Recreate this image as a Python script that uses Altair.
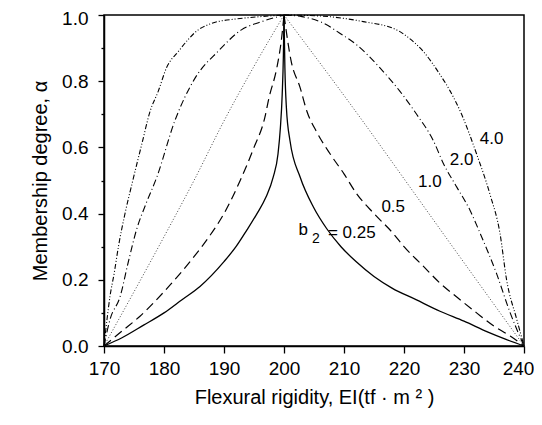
import altair as alt
import pandas as pd

# ---- data ----
b025_x = [170, 173, 176.6, 180, 183, 186, 190, 192, 193.8, 195.5, 197, 198.2, 199, 199.4, 199.7, 199.9, 200,
          200.15, 200.4, 201, 202.7, 204.9, 207.1, 209.5, 212, 215, 218, 222, 226, 230, 234, 237, 240]
b025_y = [0, 0.025, 0.063, 0.10, 0.14, 0.18, 0.255, 0.30, 0.35, 0.40, 0.45, 0.51, 0.58, 0.66, 0.76, 0.88, 1.0,
          0.84, 0.72, 0.62, 0.51, 0.42, 0.355, 0.30, 0.255, 0.21, 0.175, 0.14, 0.105, 0.075, 0.042, 0.02, 0]

b05_x = [170, 173, 176, 180, 182.5, 185, 187.5, 190, 192.7, 195, 196.8, 197.5, 198.8, 199.6, 200,
         201.2, 202.7, 203.8, 205.5, 207.7, 210, 212.1, 215, 218.2, 220, 223, 226, 229, 232.1, 235, 237.7, 240]
b05_y = [0, 0.045, 0.09, 0.164, 0.215, 0.27, 0.33, 0.40, 0.50, 0.60, 0.69, 0.75, 0.84, 0.93, 1.0,
         0.86, 0.78, 0.71, 0.645, 0.58, 0.52, 0.46, 0.40, 0.34, 0.30, 0.245, 0.19, 0.145, 0.10, 0.06, 0.03, 0]

b1_x = [170, 180, 185, 190, 195, 200, 212.7, 221, 227.7, 240]
b1_y = [0, 0.33, 0.50, 0.68, 0.845, 1.0, 0.69, 0.48, 0.31, 0]

b2_x = [170, 171, 172.7, 174, 175.4, 177, 178.8, 181.8, 185.2, 189, 192.9, 196.3, 200,
        203, 206.6, 209.3, 212.1, 216, 219.3, 222.1, 224.9, 226.6, 228.8, 231, 232.7, 235.4, 237.7, 240]
b2_y = [0, 0.08, 0.15, 0.25, 0.35, 0.43, 0.51, 0.68, 0.81, 0.89, 0.955, 0.98, 1.0,
        0.995, 0.975, 0.945, 0.91, 0.84, 0.77, 0.70, 0.62, 0.55, 0.48, 0.41, 0.34, 0.22, 0.10, 0]

b4_x = [170, 170.5, 171, 171.7, 172.4, 173.5, 174.8, 176.3, 177.7, 179.05, 180.4, 182.4, 185.7, 188, 192, 196, 200,
        206, 213.2, 218.8, 220.5, 223.2, 226, 227.7, 229.6, 232.1, 234.3, 236, 237.1, 238.8, 240]
b4_y = [0, 0.08, 0.15, 0.22, 0.30, 0.40, 0.50, 0.61, 0.71, 0.77, 0.84, 0.89, 0.955, 0.975, 0.988, 0.995, 1.0,
        0.997, 0.98, 0.955, 0.935, 0.89, 0.82, 0.77, 0.70, 0.58, 0.46, 0.34, 0.20, 0.08, 0]

label_text = ["4.0", "2.0", "1.0", "0.5", "b", "= 0.25"]
label_x = [234.6, 229.6, 224.3, 218.2, 203.2, 211.3]
label_y = [0.624, 0.562, 0.496, 0.421, 0.35, 0.341]
sub_text = ["2"]
sub_x = [205.3]
sub_y = [0.322]

x_ticks = [170, 180, 190, 200, 210, 220, 230, 240]
y_ticks = [0.0, 0.1, 0.2, 0.3, 0.4, 0.5, 0.6, 0.7, 0.8, 0.9, 1.0]

FONT = "Liberation Sans"

xscale = alt.Scale(domain=[170, 240], nice=False, zero=False)
yscale = alt.Scale(domain=[0, 1], nice=False, zero=False)

xaxis = alt.Axis(values=x_ticks, title="Flexural rigidity, EI(tf · m ² )", format="d",
                 tickSize=7, labelPadding=6, titlePadding=9, labelFlush=False,
                 labelOffset={"condition": {"test": "datum.value == 240", "value": -6}, "value": 0})
yaxis = alt.Axis(values=y_ticks, title="Membership degree, α",
                 labelExpr="round(datum.value*10) % 2 == 0 ? format(datum.value, '.1f') : ''",
                 tickSize={"condition": {"test": "round(datum.value*10) % 2 == 0", "value": 6}, "value": 3},
                 labelOffset={"condition": {"test": "datum.value == 1", "value": 3}, "value": 0},
                 labelPadding=10, titlePadding=11)

X = alt.X("x:Q", scale=xscale, axis=xaxis)
Y = alt.Y("y:Q", scale=yscale, axis=yaxis)

series = [
    (b025_x, b025_y, [1, 0], 1.3, "black"),
    (b05_x, b05_y, [9, 5], 1.2, "black"),
    (b1_x, b1_y, [1, 2], 1.0, "#444444"),
    (b2_x, b2_y, [7, 3, 1, 3], 1.1, "black"),
    (b4_x, b4_y, [5, 2, 1, 2, 1, 2], 1.1, "black"),
]

layers = []
for xs, ys, dash, w, col in series:
    k = xs.index(200)
    side = ["L"] * (k + 1) + ["R"] * (len(xs) - k)
    xx = xs[:k + 1] + xs[k:]
    yy = ys[:k + 1] + ys[k:]
    df = pd.DataFrame({"x": xx, "y": yy, "side": side, "o": list(range(len(xx)))})
    props = dict(color=col, strokeWidth=w, interpolate="monotone")
    if dash != [1, 0]:
        props["strokeDash"] = dash
    layers.append(alt.Chart(df).mark_line(**props).encode(x=X, y=Y, detail="side:N", order="o:Q"))

lab_df = pd.DataFrame({"t": label_text, "x": label_x, "y": label_y})
layers.append(alt.Chart(lab_df).mark_text(font=FONT, fontSize=17, color="black", align="center",
                                          baseline="middle").encode(x=X, y=Y, text="t:N"))
sub_df = pd.DataFrame({"t": sub_text, "x": sub_x, "y": sub_y})
layers.append(alt.Chart(sub_df).mark_text(font=FONT, fontSize=14, color="black", align="center",
                                          baseline="middle").encode(x=X, y=Y, text="t:N"))

chart = alt.layer(*layers).properties(
    width=420, height=331,
    background="white",
    autosize=alt.AutoSizeParams(type="none"),
    padding={"left": 96, "top": 7, "right": 10, "bottom": 71},
).configure_view(
    stroke="black", strokeWidth=1.5
).configure_axis(
    labelFont=FONT, labelFontSize=19, labelColor="black",
    titleFont=FONT, titleFontSize=20, titleFontWeight="normal", titleColor="black",
    domainColor="black", domainWidth=1.5, tickColor="black", tickWidth=1.3, grid=False,
)

chart.save("out.html", embed_options={"renderer": "svg", "actions": False})
